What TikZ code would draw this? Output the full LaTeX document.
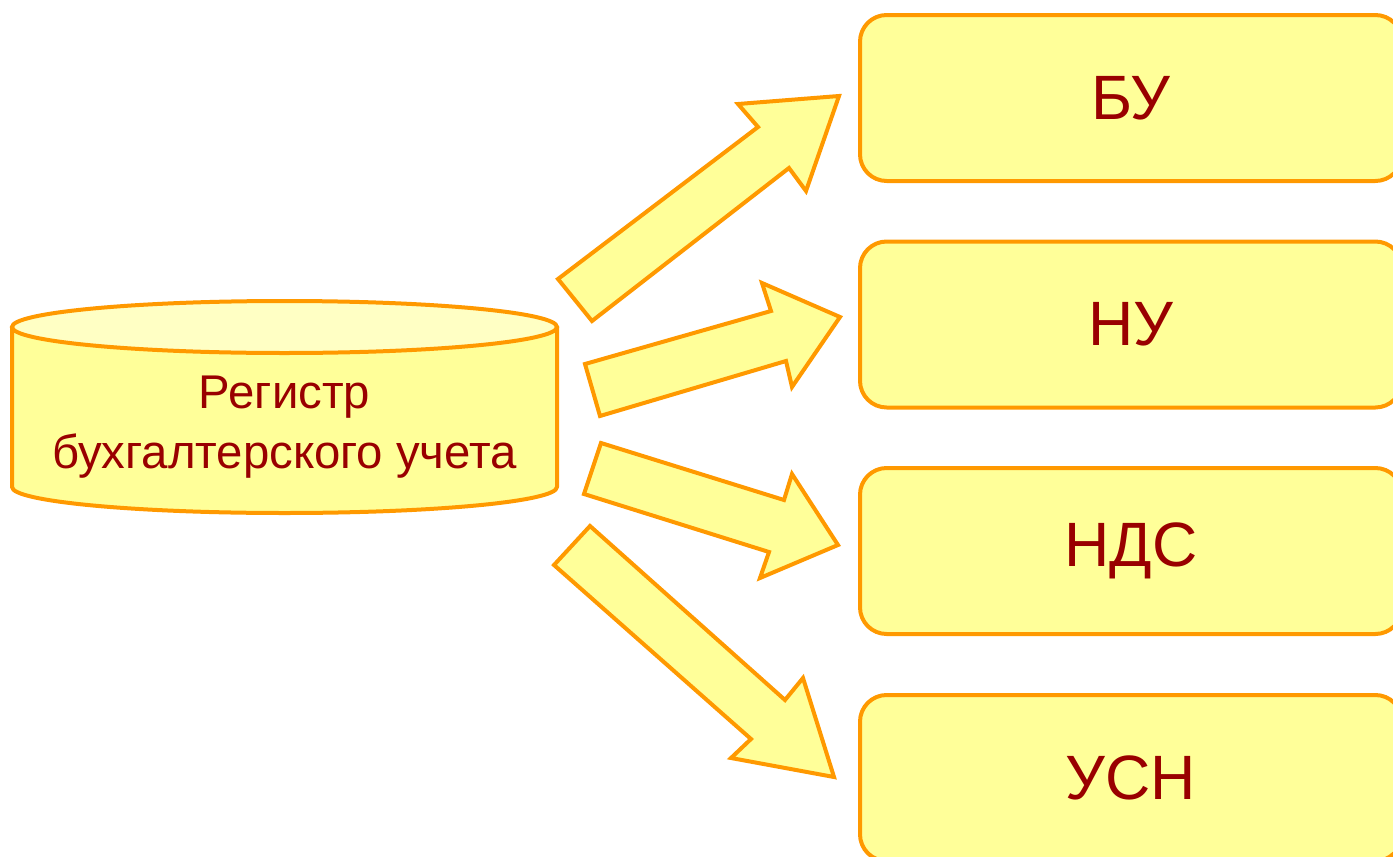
\documentclass[tikz,border=0pt]{standalone}
\usepackage{fontspec}
\setmainfont{Liberation Sans}
\definecolor{edge}{HTML}{FF9900}
\definecolor{fillY}{HTML}{FFFF99}
\definecolor{fillTop}{HTML}{FFFFC4}
\definecolor{txt}{HTML}{990000}
\begin{document}
\begin{tikzpicture}[x=0.75pt,y=-0.75pt,
  boxnode/.style={draw=edge, fill=fillY, line width=3pt, rounded corners=20pt,
    minimum width=406.5pt, minimum height=124.5pt, text=txt,
    font=\fontsize{47pt}{52pt}\selectfont},
  blockarrow/.style={draw=edge, fill=fillY, line width=3pt, line join=miter},
  cylline/.style={draw=edge, line width=3pt}]
\useasboundingbox (0,0) rectangle (1393,857);
\begin{scope}
\clip (0,0) rectangle (1393,857);
% right boxes
\node[boxnode] (bu)  at (1131,98)   {БУ};
\node[boxnode] (nu)  at (1131,324.5){НУ};
\node[boxnode] (nds) at (1131,551)  {НДС};
\node[boxnode] (usn) at (1131,778)  {УСН};
\end{scope}
% cylinder
\coordinate (cylTL) at (12,327);
\coordinate (cylTR) at (557,327);
\coordinate (cylBL) at (12,487);
\coordinate (cylBR) at (557,487);
\path[cylline, fill=fillY, line join=round] (cylTL) -- (cylBL)
  arc[start angle=180, end angle=360, x radius=204.375pt, y radius=19.5pt]
  -- (cylTR) -- cycle;
\path[cylline, fill=fillTop] (284.5,327) ellipse[x radius=204.375pt, y radius=19.5pt];
\node[text=txt, align=center, font=\fontsize{35.5pt}{45.5pt}\selectfont] (reg) at (284.5,427)
  {Регистр\\бухгалтерского учета};
% block arrows
\draw[blockarrow] (558,279) -- (758,127) -- (738,104) -- (839,96) -- (806,191) -- (789,168) -- (592,321) -- cycle;
\draw[blockarrow] (585,364) -- (771,311) -- (762,283) -- (840,317) -- (792,387) -- (786,361) -- (600,416) -- cycle;
\draw[blockarrow] (601,443) -- (784,500) -- (792,474) -- (838,545) -- (760,578) -- (769,552) -- (584,494) -- cycle;
\draw[blockarrow] (590,526) -- (785,700) -- (803,678) -- (834,777) -- (731,758) -- (751,739) -- (554,565) -- cycle;
\end{tikzpicture}
\end{document}
